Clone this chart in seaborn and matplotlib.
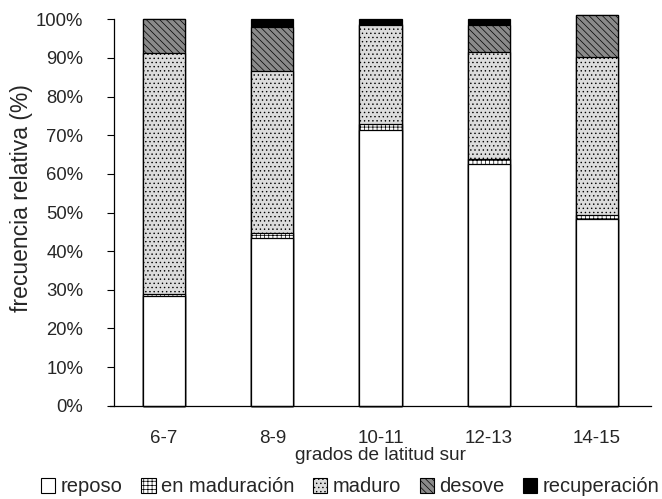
import numpy as np
import pandas as pd
import matplotlib
matplotlib.use("Agg")
import matplotlib.pyplot as plt
from matplotlib.patches import Patch
import seaborn as sns

# Latitude bands (degrees south)
categories = ["6-7", "8-9", "10-11", "12-13", "14-15"]

# Relative frequency (%) of each gonad stage per latitude band
reposo = [28.5, 43.3, 71.3, 62.6, 48.3]
en_maduracion = [0.5, 1.5, 1.6, 1.2, 1.0]
maduro = [62.2, 41.8, 25.6, 27.8, 41.0]
desove = [8.8, 11.5, 0.3, 6.8, 10.8]
recuperacion = [0.0, 1.9, 1.2, 1.6, 0.0]

stage_names = ["reposo", "en maduración", "maduro", "desove", "recuperación"]
stage_values = [reposo, en_maduracion, maduro, desove, recuperacion]

# fill colour and hatch for each stage
styles = {
    "reposo": ("white", ""),
    "en maduración": ("white", "++++"),
    "maduro": ("#dcdcdc", "...."),
    "desove": ("#8a8a8a", "\\\\\\\\\\"),
    "recuperación": ("black", ""),
}

sns.set_style("white")
plt.rcParams["font.family"] = ["Liberation Sans", "DejaVu Sans"]
plt.rcParams["hatch.linewidth"] = 0.5
plt.rcParams["hatch.color"] = "black"

fig = plt.figure(figsize=(6.62, 4.99), dpi=100)
ax = fig.add_axes([110 / 662, 1 - 405.7 / 499, (651 - 110) / 662, (405.7 - 19.3) / 499])

cum = np.cumsum(np.array(stage_values), axis=0)

# draw cumulative stacks from the top stage down so each lower stage overlays
for i in range(len(stage_names) - 1, -1, -1):
    name = stage_names[i]
    face, hatch = styles[name]
    df = pd.DataFrame({"lat": categories, "val": cum[i]})
    n0 = len(ax.patches)
    sns.barplot(data=df, x="lat", y="val", order=categories, color=face,
                saturation=1, width=0.39, edgecolor="black", linewidth=0.9,
                errorbar=None, ax=ax)
    for p in ax.patches[n0:]:
        p.set_facecolor(face)
        p.set_hatch(hatch)
        p.set_clip_on(False)

ax.set_ylim(0, 100)
ax.set_xlim(-0.5, 4.5)
ax.set_yticks(np.arange(0, 101, 10))
ax.set_yticklabels([f"{v}%" for v in range(0, 101, 10)])
ax.tick_params(axis="y", which="both", left=True, length=5, width=0.8,
               color="black", labelsize=13.3, pad=17)
ax.tick_params(axis="x", bottom=False, labelsize=13.5, pad=14)
for s in ["top", "right"]:
    ax.spines[s].set_visible(False)
for s in ["left", "bottom"]:
    ax.spines[s].set_color("black")
    ax.spines[s].set_linewidth(0.9)
ax.spines["left"].set_position(("axes", 4 / 541))

ax.set_ylabel("frecuencia relativa (%)", fontsize=16.5)
ax.yaxis.set_label_coords(-0.143, 0.5375)
ax.set_xlabel("grados de latitud sur", fontsize=13.7, labelpad=0)

handles = [Patch(facecolor=styles[n][0], hatch=styles[n][1], edgecolor="black",
                 linewidth=0.8, label=n) for n in stage_names]
fig.legend(handles=handles, loc="center", bbox_to_anchor=(0.529, 1 - 487 / 499),
           ncol=5, frameon=False, fontsize=14.5, handlelength=0.7,
           handleheight=0.7, handletextpad=0.25, columnspacing=0.95,
           borderpad=0)

fig.savefig("out.png", dpi=100)
